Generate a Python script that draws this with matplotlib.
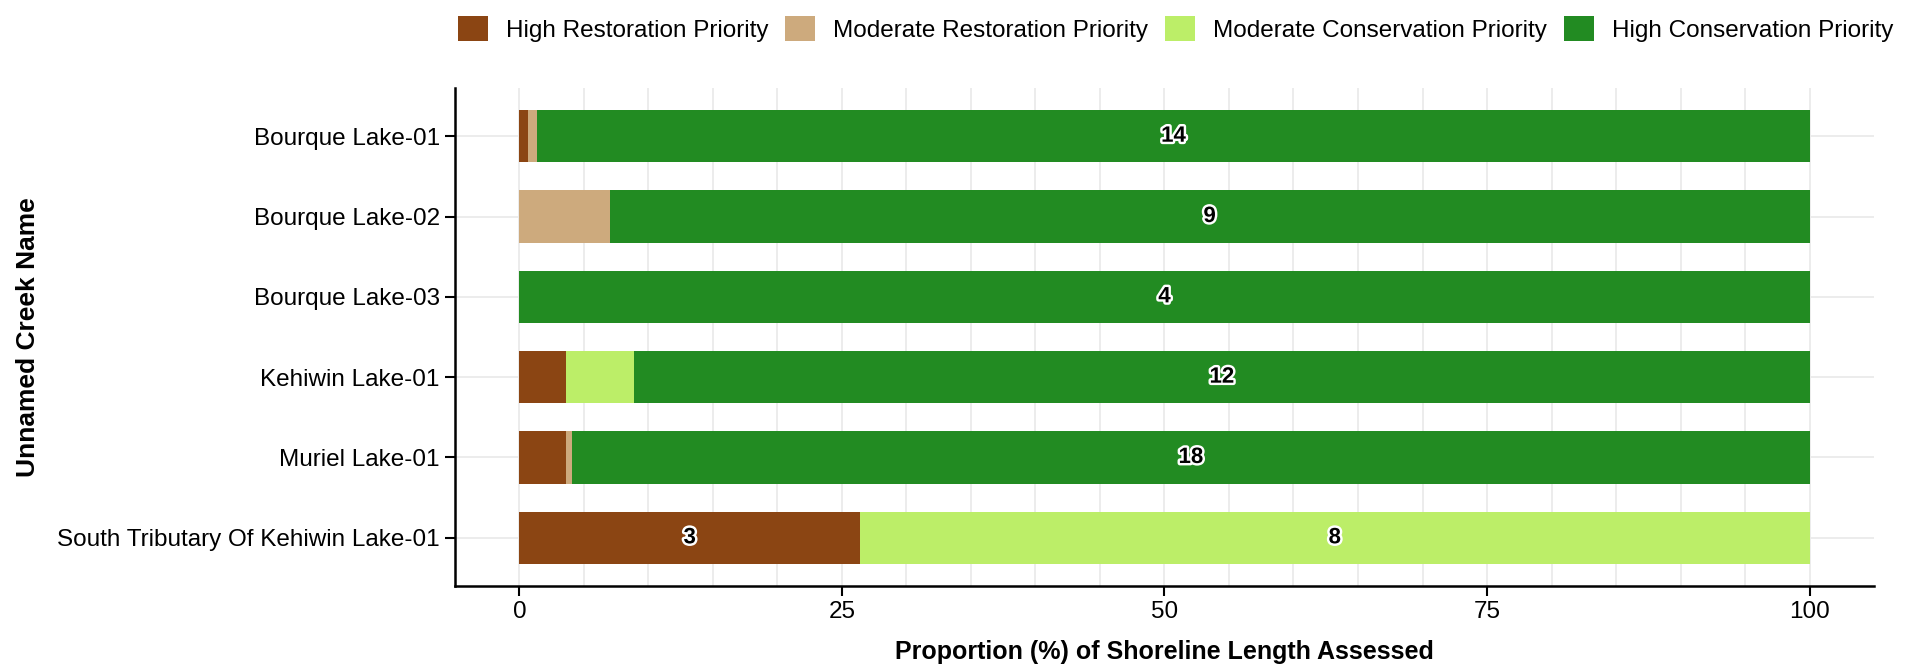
import numpy as np
import matplotlib
matplotlib.use("Agg")
import matplotlib.pyplot as plt
import matplotlib.patheffects as pe
from matplotlib.patches import Patch

plt.rcParams['font.family'] = ['Liberation Sans', 'DejaVu Sans']

# Creeks, top to bottom
creeks = ["Bourque Lake-01", "Bourque Lake-02", "Bourque Lake-03",
          "Kehiwin Lake-01", "Muriel Lake-01", "South Tributary Of Kehiwin Lake-01"]

# Proportion (%) of shoreline length in each priority class
high_rest = [0.7, 0.0, 0.0, 3.6, 3.6, 26.4]
mod_rest = [0.7, 7.0, 0.0, 0.0, 0.5, 0.0]
mod_cons = [0.0, 0.0, 0.0, 5.3, 0.0, 73.6]
high_cons = [98.6, 93.0, 100.0, 91.1, 95.9, 0.0]

# Number of sites per segment (None = not labelled)
high_rest_n = [None, None, None, None, None, 3]
mod_rest_n = [None, None, None, None, None, None]
mod_cons_n = [None, None, None, None, None, 8]
high_cons_n = [14, 9, 4, 12, 18, None]

classes = ["High Restoration Priority", "Moderate Restoration Priority",
           "Moderate Conservation Priority", "High Conservation Priority"]
couleurs = ["#8B4513", "#CDAA7D", "#BCEE68", "#228B22"]
series = [high_rest, mod_rest, mod_cons, high_cons]
comptes = [high_rest_n, mod_rest_n, mod_cons_n, high_cons_n]

fig = plt.figure(figsize=(19.17, 6.72), dpi=100)
ax = fig.add_axes([0.2373, 0.128, 0.9776 - 0.2373, 0.869 - 0.128])

y = np.arange(len(creeks))
gauche = np.zeros(len(creeks))
for vals, ns, coul in zip(series, comptes, couleurs):
    vals = np.array(vals)
    ax.barh(y, vals, left=gauche, height=0.65, color=coul, zorder=2)
    for i in range(len(creeks)):
        if ns[i] is not None:
            ax.text(gauche[i] + vals[i] / 2, y[i], str(ns[i]), ha='center', va='center',
                    fontsize=16, fontweight='bold', color='black', zorder=3,
                    path_effects=[pe.withStroke(linewidth=3.5, foreground='white')])
    gauche = gauche + vals

ax.set_xlim(-5, 105)
ax.set_ylim(len(creeks) - 0.4, -0.6)
ax.set_yticks(y)
ax.set_yticklabels(creeks)
ax.set_xticks([0, 25, 50, 75, 100])
ax.tick_params(axis='both', labelsize=17.5, colors='black', length=7, width=1.5, pad=4)

for x in np.arange(0, 101, 5):
    ax.axvline(x, color='#EBEBEB', linewidth=1.3, zorder=0)
for yy in y:
    ax.axhline(yy, color='#EBEBEB', linewidth=1.3, zorder=0)

for s in ['top', 'right']:
    ax.spines[s].set_visible(False)
for s in ['left', 'bottom']:
    ax.spines[s].set_linewidth(1.8)
    ax.spines[s].set_color('black')

ax.set_xlabel("Proportion (%) of Shoreline Length Assessed", fontsize=18,
              fontweight='bold', labelpad=12)
ax.set_ylabel("Unnamed Creek Name", fontsize=19, fontweight='bold', labelpad=12)

poignees = [Patch(facecolor=c, edgecolor='none') for c in couleurs]
fig.legend(poignees, classes, ncol=4, loc='center right', bbox_to_anchor=(0.9875, 0.957),
           frameon=False, fontsize=17.5, handlelength=1.23, handleheight=1.23,
           handletextpad=0.74, columnspacing=0.7, borderpad=0, borderaxespad=0)

fig.savefig("out.png", dpi=100, facecolor='white')
